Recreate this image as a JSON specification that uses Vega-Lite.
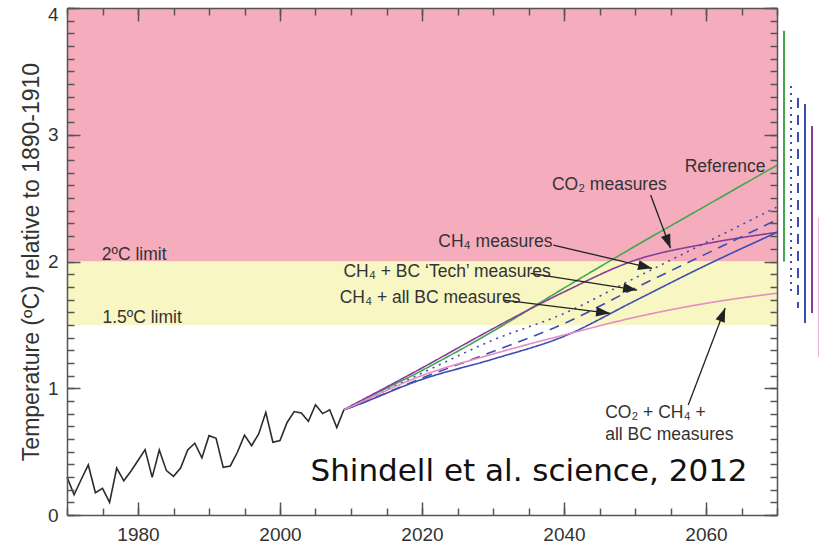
{
  "$schema": "https://vega.github.io/schema/vega-lite/v6.json",
  "width": 710,
  "height": 507,
  "autosize": {"type": "none"},
  "padding": {"left": 67, "top": 8, "right": 42, "bottom": 28},
  "background": "white",
  "config": {
    "view": {"stroke": null},
    "font": "Liberation Sans"
  },
  "datasets": {
    "bands": [
      {"band": "2ºC", "lo": 2, "hi": 4},
      {"band": "1.5ºC", "lo": 1.5, "hi": 2}
    ],
    "hist": [
      {"year": 1970, "temp": 0.30}, {"year": 1971, "temp": 0.16}, {"year": 1972, "temp": 0.28},
      {"year": 1973, "temp": 0.395}, {"year": 1974, "temp": 0.176}, {"year": 1975, "temp": 0.21},
      {"year": 1976, "temp": 0.10}, {"year": 1977, "temp": 0.37}, {"year": 1978, "temp": 0.27},
      {"year": 1979, "temp": 0.345}, {"year": 1980, "temp": 0.43}, {"year": 1981, "temp": 0.516},
      {"year": 1982, "temp": 0.297}, {"year": 1983, "temp": 0.513}, {"year": 1984, "temp": 0.35},
      {"year": 1985, "temp": 0.305}, {"year": 1986, "temp": 0.37}, {"year": 1987, "temp": 0.513},
      {"year": 1988, "temp": 0.566}, {"year": 1989, "temp": 0.45}, {"year": 1990, "temp": 0.626},
      {"year": 1991, "temp": 0.605}, {"year": 1992, "temp": 0.376}, {"year": 1993, "temp": 0.387},
      {"year": 1994, "temp": 0.495}, {"year": 1995, "temp": 0.63}, {"year": 1996, "temp": 0.547},
      {"year": 1997, "temp": 0.64}, {"year": 1998, "temp": 0.81}, {"year": 1999, "temp": 0.574},
      {"year": 2000, "temp": 0.587}, {"year": 2001, "temp": 0.73}, {"year": 2002, "temp": 0.816},
      {"year": 2003, "temp": 0.805}, {"year": 2004, "temp": 0.74}, {"year": 2005, "temp": 0.87},
      {"year": 2006, "temp": 0.80}, {"year": 2007, "temp": 0.83}, {"year": 2008, "temp": 0.69},
      {"year": 2009, "temp": 0.83}
    ],
    "proj": [
      {"scenario": "Reference", "year": 2009, "temp": 0.83}, {"scenario": "Reference", "year": 2010, "temp": 0.86},
      {"scenario": "Reference", "year": 2020, "temp": 1.14}, {"scenario": "Reference", "year": 2030, "temp": 1.45},
      {"scenario": "Reference", "year": 2040, "temp": 1.79}, {"scenario": "Reference", "year": 2050, "temp": 2.12},
      {"scenario": "Reference", "year": 2060, "temp": 2.44}, {"scenario": "Reference", "year": 2070, "temp": 2.76},
      {"scenario": "CO2", "year": 2009, "temp": 0.83}, {"scenario": "CO2", "year": 2010, "temp": 0.86},
      {"scenario": "CO2", "year": 2020, "temp": 1.16}, {"scenario": "CO2", "year": 2030, "temp": 1.47},
      {"scenario": "CO2", "year": 2040, "temp": 1.76}, {"scenario": "CO2", "year": 2050, "temp": 2.01},
      {"scenario": "CO2", "year": 2060, "temp": 2.14}, {"scenario": "CO2", "year": 2070, "temp": 2.23},
      {"scenario": "CH4", "year": 2009, "temp": 0.83}, {"scenario": "CH4", "year": 2010, "temp": 0.855},
      {"scenario": "CH4", "year": 2020, "temp": 1.12}, {"scenario": "CH4", "year": 2030, "temp": 1.38},
      {"scenario": "CH4", "year": 2040, "temp": 1.59}, {"scenario": "CH4", "year": 2050, "temp": 1.87},
      {"scenario": "CH4", "year": 2060, "temp": 2.15}, {"scenario": "CH4", "year": 2070, "temp": 2.43},
      {"scenario": "Tech", "year": 2009, "temp": 0.83}, {"scenario": "Tech", "year": 2010, "temp": 0.85},
      {"scenario": "Tech", "year": 2020, "temp": 1.08}, {"scenario": "Tech", "year": 2030, "temp": 1.29},
      {"scenario": "Tech", "year": 2040, "temp": 1.51}, {"scenario": "Tech", "year": 2050, "temp": 1.79},
      {"scenario": "Tech", "year": 2060, "temp": 2.06}, {"scenario": "Tech", "year": 2070, "temp": 2.33},
      {"scenario": "AllBC", "year": 2009, "temp": 0.83}, {"scenario": "AllBC", "year": 2010, "temp": 0.85},
      {"scenario": "AllBC", "year": 2020, "temp": 1.07}, {"scenario": "AllBC", "year": 2030, "temp": 1.23},
      {"scenario": "AllBC", "year": 2040, "temp": 1.41}, {"scenario": "AllBC", "year": 2050, "temp": 1.69},
      {"scenario": "AllBC", "year": 2060, "temp": 1.97}, {"scenario": "AllBC", "year": 2070, "temp": 2.23},
      {"scenario": "All", "year": 2009, "temp": 0.83}, {"scenario": "All", "year": 2010, "temp": 0.855},
      {"scenario": "All", "year": 2020, "temp": 1.10}, {"scenario": "All", "year": 2030, "temp": 1.27},
      {"scenario": "All", "year": 2040, "temp": 1.42}, {"scenario": "All", "year": 2050, "temp": 1.56},
      {"scenario": "All", "year": 2060, "temp": 1.67}, {"scenario": "All", "year": 2070, "temp": 1.75}
    ],
    "ranges": [
      {"scenario": "Reference", "year": 2070, "high": 3.82, "low": 2.0},
      {"scenario": "CH4", "year": 2070, "high": 3.385, "low": 1.744},
      {"scenario": "Tech", "year": 2070, "high": 3.29, "low": 1.633},
      {"scenario": "AllBC", "year": 2070, "high": 3.243, "low": 1.515},
      {"scenario": "CO2", "year": 2070, "high": 3.07, "low": 1.594},
      {"scenario": "All", "year": 2070, "high": 2.35, "low": 1.247}
    ],
    "arrows": [
      {"x1": 2052.2, "y1": 2.525, "x2": 2055.0, "y2": 2.104},
      {"x1": 2038.5, "y1": 2.13, "x2": 2052.4, "y2": 1.946},
      {"x1": 2035.3, "y1": 1.907, "x2": 2050.3, "y2": 1.775},
      {"x1": 2031.5, "y1": 1.696, "x2": 2046.5, "y2": 1.591},
      {"x1": 2057.5, "y1": 0.868, "x2": 2062.7, "y2": 1.633}
    ],
    "labels": [
      {"text": "Reference", "year": 2057.0, "temp": 2.746},
      {"text": "CO₂ measures", "year": 2038.3, "temp": 2.60},
      {"text": "CH₄ measures", "year": 2022.3, "temp": 2.156},
      {"text": "CH₄ + BC ‘Tech’ measures", "year": 2008.94, "temp": 1.92},
      {"text": "CH₄ + all BC measures", "year": 2008.4, "temp": 1.71},
      {"text": "CO₂ + CH₄ +", "year": 2045.8, "temp": 0.805},
      {"text": "all BC measures", "year": 2045.8, "temp": 0.631},
      {"text": "2ºC limit", "year": 1974.9, "temp": 2.05},
      {"text": "1.5ºC limit", "year": 1975.0, "temp": 1.554}
    ],
    "source": [
      {"text": "Shindell et al. science, 2012", "year": 2004.3, "temp": 0.339}
    ]
  },
  "layer": [
    {
      "data": {"name": "bands"},
      "mark": {"type": "rect"},
      "encoding": {
        "x": {"datum": 1970, "type": "quantitative", "scale": {"domain": [1970, 2070], "nice": false, "zero": false},
              "axis": {"orient": "bottom", "values": [1980, 2000, 2020, 2040, 2060], "ticks": true, "tickSize": -13, "tickColor": "#555", "tickWidth": 1.5, "labelFontSize": 19, "labelColor": "#333", "labelPadding": 23, "format": "d", "title": null, "domain": true, "domainColor": "#555", "domainWidth": 1.5, "grid": false, "zindex": 1}},
        "x2": {"datum": 2070},
        "y": {"field": "lo", "type": "quantitative", "scale": {"domain": [0, 4], "nice": false, "zero": false},
              "axis": {"orient": "left", "values": [0, 1, 2, 3, 4], "ticks": true, "tickSize": -13, "tickColor": "#555", "tickWidth": 1.5, "labelFontSize": 19, "labelColor": "#333", "labelPadding": 22, "labelOffset": {"expr": "datum.value == 4 ? 6 : 0"}, "title": "Temperature (ºC) relative to 1890-1910", "titleFontSize": 23, "titleFontWeight": "normal", "titleColor": "#333", "titlePadding": 4, "domain": true, "domainColor": "#555", "domainWidth": 1.5, "grid": false, "zindex": 1}},
        "y2": {"field": "hi"},
        "color": {"field": "band", "type": "nominal", "scale": {"domain": ["2ºC", "1.5ºC"], "range": ["#F5ADBE", "#F8F6C3"]}, "legend": null}
      }
    },
    {
      "data": {"name": "hist"},
      "mark": {"type": "line", "color": "#2b2b2b", "strokeWidth": 1.6},
      "encoding": {
        "x": {"field": "year", "type": "quantitative", "scale": {"domain": [1970, 2070], "nice": false, "zero": false},
              "axis": {"orient": "bottom", "tickCount": 20, "tickSize": -7, "tickColor": "#555", "tickWidth": 1.5, "labels": false, "domain": false, "title": null, "grid": false, "zindex": 1}},
        "y": {"field": "temp", "type": "quantitative", "scale": {"domain": [0, 4], "nice": false, "zero": false},
              "axis": {"orient": "left", "tickCount": 40, "tickSize": -7, "tickColor": "#555", "tickWidth": 1.5, "labels": false, "domain": false, "title": null, "grid": false, "zindex": 1}}
      }
    },
    {
      "data": {"name": "proj"},
      "mark": {"type": "line", "strokeWidth": 1.6, "interpolate": "monotone"},
      "encoding": {
        "x": {"field": "year", "type": "quantitative", "scale": {"domain": [1970, 2070], "nice": false, "zero": false},
              "axis": {"orient": "top", "tickCount": 20, "tickSize": -7, "tickColor": "#555", "tickWidth": 1.5, "labels": false, "domain": true, "domainColor": "#555", "domainWidth": 1.5, "title": null, "grid": false, "zindex": 1}},
        "y": {"field": "temp", "type": "quantitative", "scale": {"domain": [0, 4], "nice": false, "zero": false},
              "axis": {"orient": "right", "tickCount": 40, "tickSize": -7, "tickColor": "#555", "tickWidth": 1.5, "labels": false, "domain": true, "domainColor": "#555", "domainWidth": 1.5, "title": null, "grid": false, "zindex": 1}},
        "color": {"field": "scenario", "type": "nominal", "scale": {"domain": ["Reference", "CO2", "CH4", "Tech", "AllBC", "All"], "range": ["#41A84E", "#8A3C9C", "#3C4DB1", "#3C4DB1", "#3C4DB1", "#E58CC3"]}, "legend": null},
        "strokeDash": {"field": "scenario", "type": "nominal", "scale": {"domain": ["Reference", "CO2", "CH4", "Tech", "AllBC", "All"], "range": [[1, 0], [1, 0], [2, 5], [10, 7], [1, 0], [1, 0]]}, "legend": null}
      }
    },
    {
      "data": {"name": "ranges"},
      "mark": {"type": "rule", "strokeWidth": 2, "xOffset": {"expr": "7 + 7 * indexof(['Reference', 'CH4', 'Tech', 'AllBC', 'CO2', 'All'], datum.scenario)"}},
      "encoding": {
        "x": {"field": "year", "type": "quantitative", "scale": {"domain": [1970, 2070], "nice": false, "zero": false},
              "axis": {"orient": "top", "values": [1980, 2000, 2020, 2040, 2060], "tickSize": -13, "tickColor": "#555", "tickWidth": 1.5, "labels": false, "domain": false, "title": null, "grid": false, "zindex": 1}},
        "y": {"field": "high", "type": "quantitative", "scale": {"domain": [0, 4], "nice": false, "zero": false},
              "axis": {"orient": "right", "values": [0, 1, 2, 3, 4], "tickSize": -13, "tickColor": "#555", "tickWidth": 1.5, "labels": false, "domain": false, "title": null, "grid": false, "zindex": 1}},
        "y2": {"field": "low"},
        "color": {"field": "scenario", "type": "nominal", "scale": {"domain": ["Reference", "CO2", "CH4", "Tech", "AllBC", "All"], "range": ["#41A84E", "#8A3C9C", "#3C4DB1", "#3C4DB1", "#3C4DB1", "#F0B4D6"]}, "legend": null},
        "strokeDash": {"field": "scenario", "type": "nominal", "scale": {"domain": ["Reference", "CO2", "CH4", "Tech", "AllBC", "All"], "range": [[1, 0], [1, 0], [2, 5], [10, 7], [1, 0], [1, 0]]}, "legend": null}
      }
    },
    {
      "data": {"name": "arrows"},
      "mark": {"type": "rule", "color": "#222", "strokeWidth": 1.3},
      "encoding": {
        "x": {"field": "x1", "type": "quantitative", "scale": {"domain": [1970, 2070], "nice": false, "zero": false}, "axis": null},
        "y": {"field": "y1", "type": "quantitative", "scale": {"domain": [0, 4], "nice": false, "zero": false}, "axis": null},
        "x2": {"field": "x2"},
        "y2": {"field": "y2"}
      }
    },
    {
      "data": {"name": "arrows"},
      "transform": [{"calculate": "atan2((datum.x2 - datum.x1) * 7.1, (datum.y2 - datum.y1) * 126.75) * 180 / PI", "as": "ang"}],
      "mark": {"type": "point", "shape": "M0,0L0.7,2L-0.7,2Z", "filled": true, "color": "#222", "size": 196, "opacity": 1},
      "encoding": {
        "x": {"field": "x2", "type": "quantitative", "scale": {"domain": [1970, 2070], "nice": false, "zero": false}, "axis": null},
        "y": {"field": "y2", "type": "quantitative", "scale": {"domain": [0, 4], "nice": false, "zero": false}, "axis": null},
        "angle": {"field": "ang", "type": "quantitative", "scale": null}
      }
    },
    {
      "data": {"name": "labels"},
      "mark": {"type": "text", "align": "left", "baseline": "middle", "fontSize": 17.5, "color": "#333"},
      "encoding": {
        "x": {"field": "year", "type": "quantitative", "scale": {"domain": [1970, 2070], "nice": false, "zero": false}, "axis": null},
        "y": {"field": "temp", "type": "quantitative", "scale": {"domain": [0, 4], "nice": false, "zero": false}, "axis": null},
        "text": {"field": "text"}
      }
    },
    {
      "data": {"name": "source"},
      "mark": {"type": "text", "align": "left", "baseline": "middle", "font": "DejaVu Sans", "fontSize": 31, "color": "#111"},
      "encoding": {
        "x": {"field": "year", "type": "quantitative", "scale": {"domain": [1970, 2070], "nice": false, "zero": false}, "axis": null},
        "y": {"field": "temp", "type": "quantitative", "scale": {"domain": [0, 4], "nice": false, "zero": false}, "axis": null},
        "text": {"field": "text"}
      }
    }
  ],
  "resolve": {"axis": {"x": "independent", "y": "independent"}, "scale": {"color": "independent"}}
}
